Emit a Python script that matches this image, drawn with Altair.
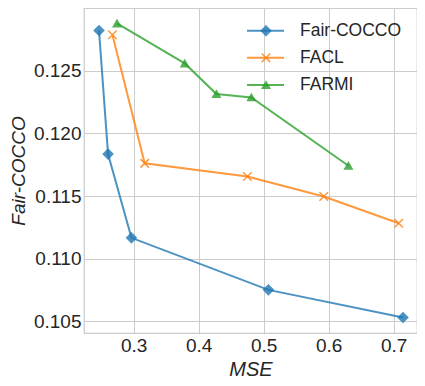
import altair as alt
import pandas as pd

series = ["Fair-COCCO", "FACL", "FARMI"]
fair_cocco_mse = [0.2466, 0.2605, 0.2965, 0.5072, 0.7143]
fair_cocco_val = [0.1282, 0.11835, 0.11167, 0.10752, 0.10532]
facl_mse = [0.2672, 0.3169, 0.4749, 0.5923, 0.7077]
facl_val = [0.12787, 0.11761, 0.11656, 0.11497, 0.11283]
farmi_mse = [0.2743, 0.3785, 0.4272, 0.4810, 0.6303]
farmi_val = [0.12877, 0.12558, 0.12314, 0.12287, 0.11742]
x_ticks = [0.3, 0.4, 0.5, 0.6, 0.7]
y_ticks = [0.105, 0.110, 0.115, 0.120, 0.125]

colors = ["#1f77b4", "#ff7f0e", "#2ca02c"]
shapes = ["diamond", "M-1,-1L1,1M-1,1L1,-1", "triangle-up"]
sizes = [90, 55, 80]
FONT = "Liberation Sans"
TXT = "#262626"
GRID = "#cccccc"

rows = []
for name, xs, ys in [
    (series[0], fair_cocco_mse, fair_cocco_val),
    (series[1], facl_mse, facl_val),
    (series[2], farmi_mse, farmi_val),
]:
    for i, (a, b) in enumerate(zip(xs, ys)):
        rows.append({"series": name, "mse": a, "val": b, "i": i})
df = pd.DataFrame(rows)
leg = pd.DataFrame({"series": series})

color = alt.Color("series:N", scale=alt.Scale(domain=series, range=colors), legend=None)
stroke = alt.Stroke("series:N", scale=alt.Scale(domain=series, range=colors), legend=None)
shape = alt.Shape("series:N", scale=alt.Scale(domain=series, range=shapes), legend=None)
size = alt.Size("series:N", scale=alt.Scale(domain=series, range=sizes), legend=None)

xenc = alt.X("mse:Q", scale=alt.Scale(domain=[0.2235, 0.7358], nice=False, zero=False),
             axis=alt.Axis(values=x_ticks, format=".1f", title="MSE", titleFontStyle="italic",
                           titleFontSize=20, labelPadding=3, titlePadding=4))
yenc = alt.Y("val:Q", scale=alt.Scale(domain=[0.10408, 0.1300], nice=False, zero=False),
             axis=alt.Axis(values=y_ticks, format=".3f", title="Fair-COCCO", titleFontStyle="italic",
                           titleFontSize=19, labelPadding=3, titlePadding=5))

lines = alt.Chart(df).mark_line(strokeWidth=2, opacity=0.8).encode(
    x=xenc, y=yenc, color=color, order="i:Q")
points = alt.Chart(df).mark_point(filled=True, opacity=0.8, strokeWidth=1.5).encode(
    x=alt.X("mse:Q"), y=alt.Y("val:Q"), color=color, stroke=stroke, shape=shape, size=size)
main = alt.layer(lines, points)

ly = alt.Y("series:N", scale=alt.Scale(type="point", domain=series, range=[22.7, 77], padding=0), axis=None)
leg_rule = alt.Chart(leg).mark_rule(strokeWidth=2, opacity=0.8).encode(
    x=alt.value(163), x2=alt.value(200), y=ly, color=color)
leg_pt = alt.Chart(leg).mark_point(filled=True, opacity=0.8, strokeWidth=1.5).encode(
    x=alt.value(182), y=ly, color=color, stroke=stroke, shape=shape, size=size)
leg_txt = alt.Chart(leg).mark_text(align="left", baseline="middle", fontSize=17.5, font=FONT, color=TXT).encode(
    x=alt.value(216), y=ly, text="series:N")
legend = alt.layer(leg_rule, leg_pt, leg_txt)

chart = alt.layer(main, legend).resolve_scale(y="independent").properties(
    width=333, height=325,
    background="white",
    autosize=alt.AutoSizeParams(type="none"),
    padding={"left": 76, "top": 0, "right": 0, "bottom": 45},
).configure_view(stroke=GRID, strokeWidth=1.25).configure_axis(
    domain=False, ticks=False, grid=True, gridColor=GRID, gridWidth=1,
    labelFont=FONT, labelFontSize=19, labelColor=TXT,
    titleFont=FONT, titleColor=TXT, titleFontWeight="normal",
)

chart.save("out.html", embed_options={"renderer": "svg", "actions": False})
